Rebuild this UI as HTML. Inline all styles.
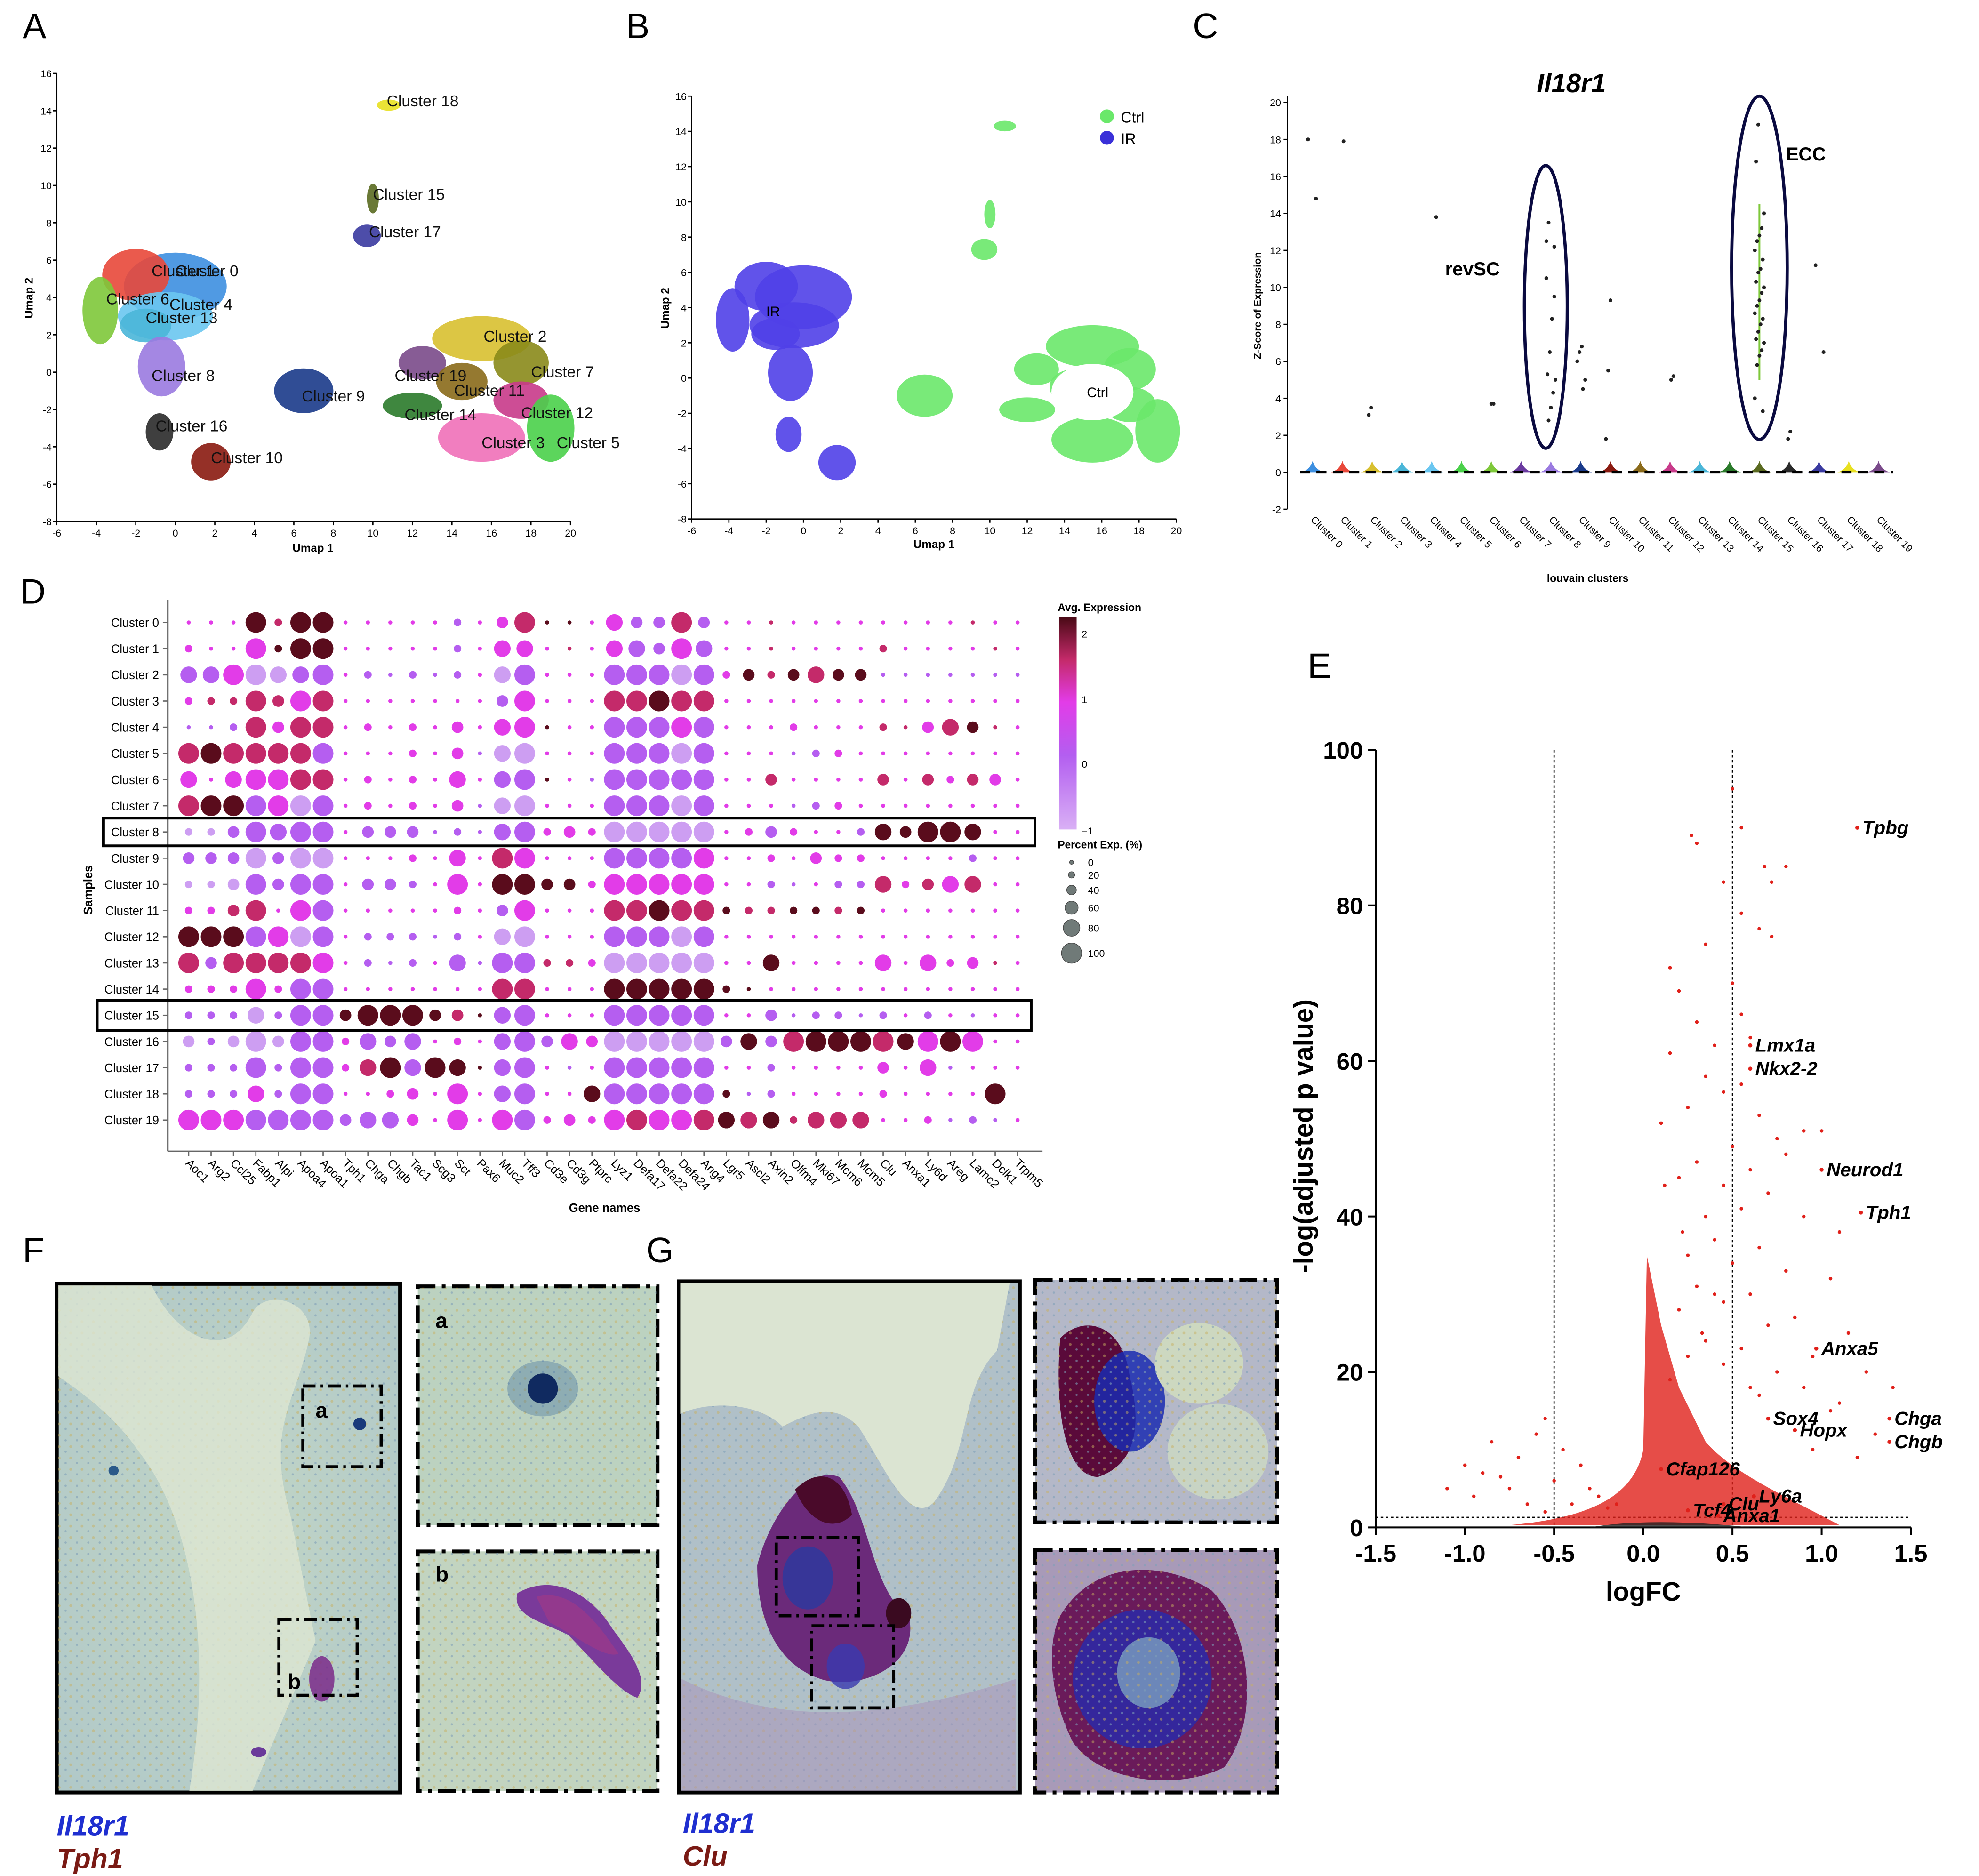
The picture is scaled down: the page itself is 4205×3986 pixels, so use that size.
<!DOCTYPE html>
<html><head><meta charset="utf-8">
<style>
html,body{margin:0;padding:0;background:#fff;}
svg{display:block;font-family:"Liberation Sans",Arial,sans-serif;}
</style></head>
<body>
<svg id="fig" width="4205" height="3986" viewBox="0 0 1568 1486" xmlns="http://www.w3.org/2000/svg">
<defs>
<linearGradient id="cbar" x1="0" y1="1" x2="0" y2="0">
<stop offset="0" stop-color="#d9b0f5"/><stop offset="0.35" stop-color="#b35ef0"/><stop offset="0.6" stop-color="#e23ce8"/><stop offset="0.8" stop-color="#c42a6a"/><stop offset="1" stop-color="#4a0a16"/>
</linearGradient>
<radialGradient id="tissue1" cx="0.5" cy="0.5" r="0.7"><stop offset="0" stop-color="#c2d6c6"/><stop offset="1" stop-color="#b0c8c8"/></radialGradient>
<pattern id="speck" width="9" height="9" patternUnits="userSpaceOnUse"><circle cx="2" cy="3" r="1.1" fill="#c8b060" opacity="0.5"/><circle cx="7" cy="7" r="0.9" fill="#7f9fb8" opacity="0.6"/></pattern>
</defs>

<g font-size="28" fill="#000">
<text x="18" y="30">A</text><text x="496" y="30">B</text><text x="945" y="30">C</text>
<text x="16" y="478">D</text><text x="1036" y="537">E</text><text x="18" y="1000">F</text><text x="512" y="1000">G</text>
</g>

<g id="panelA"></g>
<g id="panelB"></g>
<g id="panelC"></g>
<g id="panelD"></g>
<g id="panelE"></g>

<g>
<rect x="45" y="1017" width="272" height="403" fill="url(#tissue1)" stroke="#000" stroke-width="3"/>
<rect x="46" y="1018" width="270" height="401" fill="url(#speck)"/>
<path d="M120 1018 C140 1060 180 1080 200 1040 C210 1020 250 1030 245 1060 C235 1110 210 1130 230 1200 L250 1300 L200 1419 L150 1419 C170 1300 150 1200 110 1150 C90 1120 60 1100 46 1090 L46 1018Z" fill="#dde6d2" opacity="0.8"/>
<ellipse cx="285" cy="1128" rx="5" ry="5" fill="#1a3a7a"/><ellipse cx="90" cy="1165" rx="4" ry="4" fill="#2b5a8a"/>
<ellipse cx="255" cy="1330" rx="10" ry="18" fill="#7a2a8a" opacity="0.85"/><ellipse cx="205" cy="1388" rx="6" ry="4" fill="#6a3a9a"/>
<rect x="240" y="1098" width="62" height="64" fill="none" stroke="#000" stroke-width="2.5" stroke-dasharray="10 4 2 4"/>
<rect x="221" y="1283" width="62" height="60" fill="none" stroke="#000" stroke-width="2.5" stroke-dasharray="10 4 2 4"/>
<text x="250" y="1123" font-size="17" font-weight="bold">a</text><text x="228" y="1338" font-size="17" font-weight="bold">b</text>
<rect x="331" y="1019" width="190" height="189" fill="#bcd2c0" stroke="#000" stroke-width="3" stroke-dasharray="14 5 3 5"/>
<rect x="332" y="1020" width="188" height="187" fill="url(#speck)"/>
<ellipse cx="430" cy="1100" rx="28" ry="22" fill="#3a6a9a" opacity="0.35"/><ellipse cx="430" cy="1100" rx="12" ry="12" fill="#102a60"/>
<text x="345" y="1052" font-size="17" font-weight="bold">a</text>
<rect x="331" y="1229" width="190" height="190" fill="#c2d4c0" stroke="#000" stroke-width="3" stroke-dasharray="14 5 3 5"/>
<rect x="332" y="1230" width="188" height="188" fill="url(#speck)"/>
<path d="M410 1262 C440 1245 470 1265 485 1290 C500 1310 515 1330 505 1345 C490 1340 470 1315 450 1295 C430 1285 405 1280 410 1262Z" fill="#7a3a9a"/>
<path d="M425 1265 C450 1258 470 1280 490 1310 C480 1315 455 1295 435 1285Z" fill="#9a3a8a" opacity="0.8"/>
<text x="345" y="1253" font-size="17" font-weight="bold">b</text>
<text x="45" y="1454" font-size="22" font-weight="bold" font-style="italic" fill="#1f2fd0">Il18r1</text>
<text x="45" y="1480" font-size="22" font-weight="bold" font-style="italic" fill="#7a1a14">Tph1</text>
</g>

<g>
<rect x="538" y="1015" width="270" height="405" fill="#b0c0c8" stroke="#000" stroke-width="3"/>
<rect x="539" y="1016" width="268" height="403" fill="url(#speck)"/>
<path d="M539 1016 L800 1016 L790 1070 C760 1100 770 1150 740 1190 C720 1210 700 1160 680 1130 C660 1110 640 1120 620 1130 C600 1110 560 1110 539 1120Z" fill="#dbe4d2"/>
<path d="M600 1240 C610 1200 640 1160 665 1170 C690 1200 690 1260 720 1280 C730 1320 680 1340 650 1330 C620 1320 600 1290 600 1240Z" fill="#6b2a7a"/>
<path d="M630 1180 C650 1160 670 1170 675 1200 C660 1215 640 1205 630 1180Z" fill="#4a0a2a"/>
<ellipse cx="640" cy="1250" rx="20" ry="25" fill="#2a3aa0" opacity="0.8"/>
<ellipse cx="670" cy="1320" rx="15" ry="18" fill="#3a3ab0" opacity="0.8"/>
<ellipse cx="712" cy="1278" rx="10" ry="12" fill="#3a0a20"/>
<path d="M540 1330 C600 1360 680 1370 805 1330 L805 1419 L540 1419Z" fill="#a890b8" opacity="0.5"/>
<rect x="615" y="1218" width="65" height="62" fill="none" stroke="#000" stroke-width="2.5" stroke-dasharray="10 4 2 4"/>
<rect x="643" y="1288" width="65" height="65" fill="none" stroke="#000" stroke-width="2.5" stroke-dasharray="10 4 2 4"/>
<rect x="820" y="1014" width="192" height="192" fill="#b4b8c8" stroke="#000" stroke-width="3" stroke-dasharray="14 5 3 5"/>
<path d="M840 1060 C860 1040 890 1050 895 1090 C905 1130 900 1160 870 1170 C845 1170 835 1120 840 1060Z" fill="#5a0a3a"/>
<ellipse cx="895" cy="1110" rx="28" ry="40" fill="#1a2ab0" opacity="0.85"/>
<ellipse cx="950" cy="1080" rx="35" ry="32" fill="#cdd8c0"/><ellipse cx="965" cy="1150" rx="40" ry="38" fill="#c8d4c4"/>
<rect x="821" y="1015" width="190" height="190" fill="url(#speck)"/>
<rect x="820" y="1228" width="192" height="192" fill="#a89ab8" stroke="#000" stroke-width="3" stroke-dasharray="14 5 3 5"/>
<path d="M840 1280 C870 1230 930 1240 960 1260 C990 1290 1000 1360 970 1400 C930 1420 870 1410 850 1380 C830 1340 830 1300 840 1280Z" fill="#6a1a5a"/>
<ellipse cx="905" cy="1330" rx="55" ry="55" fill="#2a2aa8" opacity="0.85"/>
<ellipse cx="910" cy="1325" rx="25" ry="28" fill="#7aa0c0" opacity="0.8"/>
<rect x="821" y="1229" width="190" height="190" fill="url(#speck)"/>
<text x="541" y="1452" font-size="22" font-weight="bold" font-style="italic" fill="#1f2fd0">Il18r1</text>
<text x="541" y="1478" font-size="22" font-weight="bold" font-style="italic" fill="#7a1a14">Clu</text>
</g>

<script>
const NS='http://www.w3.org/2000/svg';
function mk(parent,tag,attrs,txt){const e=document.createElementNS(NS,tag);for(const k in attrs)e.setAttribute(k,attrs[k]);if(txt!==undefined)e.textContent=txt;parent.appendChild(e);return e;}

const umapTicksX=[-6,-4,-2,0,2,4,6,8,10,12,14,16,18,20];
const umapTicksY=[16,14,12,10,8,6,4,2,0,-2,-4,-6,-8];
const clusterBlobs=[
['Cluster 0',0,4.6,2.6,1.8,'#3d8fe0',0,5.4],['Cluster 1',-2,5.2,1.7,1.4,'#e8483a',-1.2,5.4],['Cluster 6',-3.8,3.3,0.9,1.8,'#7ec83a',-3.5,3.9],
['Cluster 4',-0.5,3,2.4,1.3,'#6ac6f0',-0.3,3.6],['Cluster 13',-1.5,2.5,1.3,0.9,'#4ab6d8',-1.5,2.9],['Cluster 8',-0.7,0.3,1.2,1.6,'#9a7ae0',-1.2,-0.2],
['Cluster 16',-0.8,-3.2,0.7,1,'#2a2a2a',-1,-2.9],['Cluster 10',1.8,-4.8,1,1,'#8a1a10',1.8,-4.6],['Cluster 18',10.8,14.3,0.6,0.3,'#e8e020',10.7,14.5],
['Cluster 15',10,9.3,0.3,0.8,'#5a6a20',10,9.5],['Cluster 17',9.7,7.3,0.7,0.6,'#3a3aa0',9.8,7.5],['Cluster 9',6.5,-1,1.5,1.2,'#1a3a8a',6.4,-1.3],
['Cluster 14',12,-1.8,1.5,0.7,'#2a7a2a',11.6,-2.3],['Cluster 19',12.5,0.5,1.2,0.9,'#7a4a8a',11.1,-0.2],['Cluster 2',15.5,1.8,2.5,1.2,'#d8c030',15.6,1.9],
['Cluster 11',14.5,-0.5,1.3,1,'#8a6a1a',14.1,-1],['Cluster 7',17.5,0.5,1.4,1.2,'#8a8a1a',18,0],['Cluster 12',17.5,-1.5,1.4,1,'#c83a8a',17.5,-2.2],
['Cluster 3',15.5,-3.5,2.2,1.3,'#f070b8',15.5,-3.8],['Cluster 5',19,-3,1.2,1.8,'#4ad04a',19.3,-3.8]];

function umapAxes(g,x0,x1,y0,y1,xmin,xmax,ymin,ymax){
  const sx=v=>x0+(v-xmin)/(xmax-xmin)*(x1-x0), sy=v=>y1-(v-ymin)/(ymax-ymin)*(y1-y0);
  mk(g,'line',{x1:x0,y1:y0,x2:x0,y2:y1,stroke:'#000','stroke-width':1});
  mk(g,'line',{x1:x0,y1:y1,x2:x1,y2:y1,stroke:'#000','stroke-width':1});
  umapTicksX.forEach(t=>{mk(g,'line',{x1:sx(t),y1:y1,x2:sx(t),y2:y1+3,stroke:'#000'});mk(g,'text',{x:sx(t),y:y1+12,'font-size':8,'text-anchor':'middle'},t);});
  umapTicksY.forEach(t=>{mk(g,'line',{x1:x0-3,y1:sy(t),x2:x0,y2:sy(t),stroke:'#000'});mk(g,'text',{x:x0-4,y:sy(t)+3,'font-size':8,'text-anchor':'end'},t);});
  return [sx,sy];
}
(function(){
  const g=document.getElementById('panelA');
  const [sx,sy]=umapAxes(g,45,452,58,413,-6,20,-8,16);
  mk(g,'text',{x:248,y:437,'font-size':9,'font-weight':'bold','text-anchor':'middle'},'Umap 1');
  mk(g,'text',{x:26,y:236,'font-size':9,'font-weight':'bold','text-anchor':'middle',transform:'rotate(-90 26 236)'},'Umap 2');
  const kx=(452-45)/26, ky=(413-58)/24;
  clusterBlobs.forEach(b=>{
    const e=mk(g,'ellipse',{cx:sx(b[1]),cy:sy(b[2]),rx:b[3]*kx,ry:b[4]*ky,fill:b[5],opacity:0.9});
    
    
  });
  clusterBlobs.forEach(b=>{mk(g,'text',{x:sx(b[6]),y:sy(b[7])+4,'font-size':12.5,fill:'#111'},b[0]);});
})();
(function(){
  const g=document.getElementById('panelB');
  const [sx,sy]=umapAxes(g,548,932,76,411,-6,20,-8,16);
  mk(g,'text',{x:740,y:434,'font-size':9,'font-weight':'bold','text-anchor':'middle'},'Umap 1');
  mk(g,'text',{x:530,y:244,'font-size':9,'font-weight':'bold','text-anchor':'middle',transform:'rotate(-90 530 244)'},'Umap 2');
  const kx=(932-548)/26, ky=(411-76)/24;
  clusterBlobs.forEach(b=>{
    const left=b[1]<4;
    const e=mk(g,'ellipse',{cx:sx(b[1]),cy:sy(b[2]),rx:b[3]*kx,ry:b[4]*ky,fill:left?'#5040e8':'#6ae86a',opacity:0.9});
    
    
  });
  mk(g,'ellipse',{cx:sx(15.5),cy:sy(-0.8),rx:2.2*kx,ry:1.6*ky,fill:'#fff'});
  mk(g,'text',{x:sx(-2),y:sy(3.5),'font-size':11},'IR');
  mk(g,'text',{x:sx(15.2),y:sy(-0.8)+4,'font-size':11},'Ctrl');
  mk(g,'circle',{cx:877,cy:92,r:5.5,fill:'#6ae86a'});mk(g,'text',{x:888,y:97,'font-size':12},'Ctrl');
  mk(g,'circle',{cx:877,cy:109,r:5.5,fill:'#3a30d8'});mk(g,'text',{x:888,y:114,'font-size':12},'IR');
})();

const vCats=['Cluster 0','Cluster 1','Cluster 2','Cluster 3','Cluster 4','Cluster 5','Cluster 6','Cluster 7','Cluster 8','Cluster 9','Cluster 10','Cluster 11','Cluster 12','Cluster 13','Cluster 14','Cluster 15','Cluster 16','Cluster 17','Cluster 18','Cluster 19'];
const vColors=['#3d8fe0','#e8483a','#d8c030','#4ab6d8','#6ac6f0','#4ad04a','#7ec83a','#6a3aa0','#9a7ae0','#1a3a8a','#8a1a10','#8a6a1a','#c83a8a','#4ab6d8','#2a7a2a','#5a6a20','#2a2a2a','#3a3aa0','#e8e020','#7a4a8a'];
const vPtCluster=[0,0,1,2,2,4,6,6,8,8,8,8,8,8,8,8,8,8,8,8,9,9,9,9,9,10,10,10,12,12,15,15,15,15,15,15,15,15,15,15,15,15,15,15,15,15,15,15,15,15,15,15,15,15,15,15,16,16,17,17];
const vPtValue=[18,14.8,17.9,3.5,3.1,13.8,3.7,3.7,13.5,12.5,12.2,8.3,6.5,5.3,5,4.3,3.5,2.8,10.5,9.5,6.8,6.5,6,5,4.5,9.3,5.5,1.8,5.2,5,18.8,16.8,14,13.2,12.8,12.5,12,11.5,11,10.8,10.3,10,9.7,9.3,9,8.6,8.3,8,7.6,7.2,7,6.6,6.3,5.8,4,3.3,2.2,1.8,11.2,6.5];
const vTicks=[20,18,16,14,12,10,8,6,4,2,0,-2];
(function(){
  const g=document.getElementById('panelC');
  const X0=1020,Y0=81,Y1=403;
  const sy=v=>374-(v)*(374-81)/20;
  const sx=i=>1040+i*23.6;
  mk(g,'line',{x1:X0,y1:Y0-5,x2:X0,y2:Y1,stroke:'#000'});
  vTicks.forEach(t=>{mk(g,'line',{x1:X0-3,y1:sy(t),x2:X0,y2:sy(t),stroke:'#000'});mk(g,'text',{x:X0-5,y:sy(t)+3,'font-size':8,'text-anchor':'end'},t);});
  mk(g,'text',{x:999,y:242,'font-size':8,'font-weight':'bold','text-anchor':'middle',transform:'rotate(-90 999 242)'},'Z-Score of Expression');
  mk(g,'text',{x:1245,y:73,'font-size':21,'font-weight':'bold','font-style':'italic','text-anchor':'middle'},'Il18r1');
  vCats.forEach((c,i)=>{
    const x=sx(i);
    const p=mk(g,'path',{d:`M${x-9} ${sy(0)} Q${x-2} ${sy(0)-2} ${x} ${sy(0)-9} Q${x+2} ${sy(0)-2} ${x+9} ${sy(0)}Z`,fill:vColors[i]});
    
    
    mk(g,'text',{x:x-2,y:412,'font-size':8,transform:`rotate(45 ${x-2} 412)`},c);
  });
  mk(g,'line',{x1:1030,y1:sy(0),x2:1500,y2:sy(0),stroke:'#000','stroke-width':2,'stroke-dasharray':'8 5'});
  mk(g,'line',{x1:sx(15),y1:sy(14.5),x2:sx(15),y2:sy(5),stroke:'#7ec83a','stroke-width':1.5});
  vPtCluster.forEach((c,k)=>{
    const d=mk(g,'circle',{cx:sx(c)+((k*7)%9-4)*0.9,cy:sy(vPtValue[k]),r:1.5,fill:'#222'});
    
    
  });
  mk(g,'ellipse',{cx:sx(8)-4,cy:243,rx:17,ry:112,fill:'none',stroke:'#0a0a40','stroke-width':2.5,});
  mk(g,'ellipse',{cx:sx(15),cy:212,rx:22,ry:136,fill:'none',stroke:'#0a0a40','stroke-width':2.5,});
  mk(g,'text',{x:1145,y:218,'font-size':15,'font-weight':'bold'},'revSC');
  mk(g,'text',{x:1415,y:127,'font-size':15,'font-weight':'bold'},'ECC');
  mk(g,'text',{x:1258,y:461,'font-size':8.5,'font-weight':'bold','text-anchor':'middle'},'louvain clusters');
})();

const dRows=['Cluster 0','Cluster 1','Cluster 2','Cluster 3','Cluster 4','Cluster 5','Cluster 6','Cluster 7','Cluster 8','Cluster 9','Cluster 10','Cluster 11','Cluster 12','Cluster 13','Cluster 14','Cluster 15','Cluster 16','Cluster 17','Cluster 18','Cluster 19'];
const dGenes=['Aoc1','Arg2','Ccl25','Fabp1','Alpi','Apoa4','Apoa1','Tph1','Chga','Chgb','Tac1','Scg3','Sct','Pax6','Muc2','Tff3','Cd3e','Cd3g','Ptprc','Lyz1','Defa17','Defa22','Defa24','Ang4','Lgr5','Ascl2','Axin2','Olfm4','Mki67','Mcm6','Mcm5','Clu','Anxa1','Ly6d','Areg','Lamc2','Dclk1','Trpm5'];
const dSize=[
"0004144 0000010 24 000 32242 0000000 0000000",
"1004144 0000010 33 000 33243 0000000 1000000",
"3344334 0101010 34 000 44444 1212322 0000000",
"1114244 0000000 24 000 44444 0000000 0000000",
"0014244 0101020 34 000 44444 0001000 1023200",
"4444444 0001020 34 000 44444 0000110 0000000",
"3034444 0101030 34 000 44444 0020000 2021220",
"4444444 0101020 34 000 44444 0000110 0000000",
"1124344 0222010 34 121 44444 0121001 3244300",
"2224244 0001030 44 000 44444 0010211 0000100",
"1124244 0221040 44 221 44444 0010011 3123300",
"1124044 0000010 24 000 44444 1111111 0000000",
"4444444 0111010 34 000 44444 0000000 0000000",
"4244444 0101030 44 111 44444 0030000 3031200",
"1114144 0000000 44 000 44444 1000000 0000000",
"1113144 2444220 34 000 44444 0020110 1010000",
"2124244 1323010 34 232 44444 2324444 4344400",
"1114144 1343430 34 000 44444 0010000 2030000",
"1113144 0012040 34 003 44444 1010000 1000045",
"4444444 2332040 44 121 44444 3331333 0010100"];
const dColor=[
"cccedee cccccbc cd eec cbbdb ccdcccc ccccdcc",
"cccceee cccccbc cc cdc cbbcb ccdcccc dccccdc",
"bbcaabb cbbbbbc ab ccc bbbab cededee bbbbbbb",
"cddddcd ccccccc bc ccc ddedd ccccccc ccccccc",
"bbbdcdd ccccccc cc ecc bbbcb ccccccc ddcdedc",
"deddddb ccccccb aa ccc bbbab cccbbcc ccccccc",
"cccccdd ccccccc bb ecb bbbbb ccdcccc dcdcdcc",
"deebcab ccccccb aa ccc bbbab cccbbcc ccccccc",
"aabbbbb cbbbbbb bb ccc aaaaa ccbcccb eeeeecc",
"bbbabaa ccccccc dc ccc bbbbc ccccccc ccccbcc",
"aaabbbb cbbbccc ee eec ccccc ccbbcbb dcdcdcc",
"ccddccb ccccccc bc ccc ddedd eddeede ccccccc",
"eeebcab cbbbbbc aa ccc bbbab ccccccc ccccccc",
"dbddddc cbbbcbb bb ddc aaaaa ccecccc cccccdc",
"cccccbb ccccccc dd ccc eeeee eeccccc ccccccc",
"bbbabbb eeeeede bb ccc bbbbb ccbbbbb bcbcbcc",
"abaaabb cbbbccc bb bcc aaaaa bebdeee dececcc",
"bbbbbbb cdebeee bb cbc bbbbb ccbcccc cccbccc",
"bbbcbbb ccccccc bb cce bbbbb ebbcccc cccccee",
"cccbbbb bbbcccc cb ccc cdccd ededddd cccbbbc"];
const dPalette={a:'#cd9ef2',b:'#b55ef0',c:'#e23ce8',d:'#c42a6a',e:'#5a0c1c'};
const dRadius=[1.6,3,4.6,6.6,8.2];
const pctLabels=['0','20','40','60','80','100'];
const cbarLabels=['2','1','0','\u22121'];
(function(){
  const g=document.getElementById('panelD');
  const sx=j=>149.5+j*17.75, sy=i=>493+i*20.75;
  mk(g,'line',{x1:133,y1:475,x2:133,y2:912,stroke:'#666','stroke-width':1.2});
  mk(g,'line',{x1:133,y1:912,x2:826,y2:912,stroke:'#666','stroke-width':1.2});
  dRows.forEach((r,i)=>{mk(g,'text',{x:126,y:sy(i)+3.5,'font-size':9.5,'text-anchor':'end'},r);mk(g,'line',{x1:129,y1:sy(i),x2:133,y2:sy(i),stroke:'#666'});});
  dGenes.forEach((n,j)=>{mk(g,'line',{x1:sx(j),y1:912,x2:sx(j),y2:916,stroke:'#666'});mk(g,'text',{x:sx(j)-3,y:922,'font-size':9.5,transform:`rotate(45 ${sx(j)-3} 922)`},n);});
  mk(g,'text',{x:479,y:960,'font-size':9.5,'font-weight':'bold','text-anchor':'middle'},'Gene names');
  mk(g,'text',{x:73,y:705,'font-size':9.5,'font-weight':'bold','text-anchor':'middle',transform:'rotate(-90 73 705)'},'Samples');
  dRows.forEach((r,i)=>{
    const s=dSize[i].replace(/ /g,''), c=dColor[i].replace(/ /g,'');
    dGenes.forEach((n,j)=>{
      const d=mk(g,'circle',{cx:sx(j),cy:sy(i),r:dRadius[+(s[j]||0)],fill:dPalette[c[j]||'c']});
      
      
    });
  });
  mk(g,'rect',{x:82,y:sy(8)-11,width:738,height:22,fill:'none',stroke:'#000','stroke-width':2.2,});
  mk(g,'rect',{x:77,y:sy(15)-12,width:740,height:24,fill:'none',stroke:'#000','stroke-width':2.2,});
  mk(g,'text',{x:838,y:484,'font-size':8.5,'font-weight':'bold'},'Avg. Expression');
  mk(g,'rect',{x:839,y:489,width:14,height:168,fill:'url(#cbar)',});
  [514,566,617,670].forEach((y,k)=>mk(g,'text',{x:857,y:y-9,'font-size':8},cbarLabels[k]));
  mk(g,'text',{x:838,y:672,'font-size':8.5,'font-weight':'bold'},'Percent Exp. (%)');
  const ly=[683,693,705,719,735,755], lr=[1.6,2.5,3.8,5.2,6.6,8];
  pctLabels.forEach((p,k)=>{mk(g,'circle',{cx:849,cy:ly[k],r:lr[k],fill:'#707a78',stroke:'#444','stroke-width':0.5});mk(g,'text',{x:862,y:ly[k]+3,'font-size':8},p);});
})();

const vxTicks=[-1.5,-1.0,-0.5,0.0,0.5,1.0,1.5];
const vyTicks=[0,20,40,60,80,100];
const geneNames=['Tpbg','Lmx1a','Nkx2-2','Neurod1','Tph1','Anxa5','Sox4','Hopx','Chga','Chgb','Cfap126','Clu','Ly6a','Tcf4','Anxa1'];
const geneFC=[1.2,0.6,0.6,1.0,1.22,0.97,0.7,0.85,1.38,1.38,0.1,0.45,0.62,0.25,0.42];
const geneP=[90,62,59,46,40.5,23,14,12.5,14,11,7.5,3,4,2.2,1.5];
const bgFC=[0.5,0.55,0.27,0.3,0.68,0.8,0.72,0.45,0.55,0.65,0.72,0.35,0.15,0.5,0.2,0.55,0.3,0.6,0.4,0.15,0.35,0.55,0.45,0.25,0.65,0.9,1.0,0.75,0.5,0.8,0.3,0.6,0.2,0.45,0.7,0.55,0.35,0.9,1.1,0.4,0.65,0.25,0.5,0.8,1.05,0.3,0.6,0.45,0.2,0.85,1.15,0.7,0.35,0.55,0.95,0.25,0.45,1.25,0.75,0.15,0.6,1.4,-0.55,-0.85,-1.0,-0.9,-0.7,-0.6,-0.45,-0.35,-0.75,-0.5,-0.3,-0.65,-1.1,-0.4,-0.2,-0.95,-0.25,-0.15,-0.55,-0.8,1.05,1.3,0.9,1.2,0.95,1.1,0.65,0.4,0.1,0.22,0.33,0.12];
const bgP=[95,90,89,88,85,85,83,83,79,77,76,75,72,70,69,66,65,63,62,61,58,57,56,54,53,51,51,50,49,48,47,46,45,44,43,41,40,40,38,37,36,35,34,33,32,31,30,29,28,27,25,26,24,23,22,22,21,20,20,19,18,18,14,11,8,7,9,12,10,8,5,6,5,3,5,3,2.5,4,4,3,2,6.5,15,12,18,9,10,16,17,30,52,38,25,44];
(function(){
  const g=document.getElementById('panelE');
  const sx=v=>1302+v*141.3, sy=v=>1210-v*6.16;
  mk(g,'line',{x1:1090,y1:594,x2:1090,y2:1210,stroke:'#000','stroke-width':1.5});
  mk(g,'line',{x1:1090,y1:1210,x2:1514,y2:1210,stroke:'#000','stroke-width':1.5});
  vyTicks.forEach(t=>{mk(g,'line',{x1:1084,y1:sy(t),x2:1090,y2:sy(t),stroke:'#000','stroke-width':1.5});mk(g,'text',{x:1080,y:sy(t)+7,'font-size':19,'font-weight':'bold','text-anchor':'end'},t);});
  vxTicks.forEach(t=>{mk(g,'line',{x1:sx(t),y1:1210,x2:sx(t),y2:1216,stroke:'#000','stroke-width':1.5});mk(g,'text',{x:sx(t),y:1237,'font-size':19,'font-weight':'bold','text-anchor':'middle'},t.toFixed(1));});
  mk(g,'text',{x:1302,y:1268,'font-size':21,'font-weight':'bold','text-anchor':'middle'},'logFC');
  mk(g,'text',{x:1040,y:900,'font-size':21,'font-weight':'bold','text-anchor':'middle',transform:'rotate(-90 1040 900)'},'-log(adjusted p value)');
  const t=mk(g,'text',{x:1302,y:586,'font-size':21,'font-weight':'bold','text-anchor':'middle'});
  t.innerHTML='<tspan font-style="italic">IL18r1</tspan><tspan dy="-8" font-size="13">-</tspan><tspan dy="8"> vs </tspan><tspan font-style="italic">IL18r1</tspan><tspan dy="-8" font-size="13">+</tspan><tspan dy="8"> Cells</tspan>';
  mk(g,'line',{x1:sx(-0.5),y1:594,x2:sx(-0.5),y2:1210,stroke:'#000','stroke-dasharray':'2 2'});
  mk(g,'line',{x1:sx(0.5),y1:594,x2:sx(0.5),y2:1210,stroke:'#000','stroke-dasharray':'2 2'});
  mk(g,'line',{x1:1090,y1:sy(1.3),x2:1514,y2:sy(1.3),stroke:'#000','stroke-dasharray':'2 2'});
  mk(g,'path',{d:`M${sx(-0.75)} ${sy(0.3)} C${sx(-0.3)} ${sy(1.2)} ${sx(-0.05)} ${sy(4)} ${sx(0)} ${sy(10)} L${sx(0.02)} ${sy(35)} L${sx(0.1)} ${sy(26)} L${sx(0.2)} ${sy(18)} L${sx(0.35)} ${sy(11)} C${sx(0.5)} ${sy(7)} ${sx(0.8)} ${sy(4)} ${sx(1.1)} ${sy(0.3)}Z`,fill:'#e0201a',opacity:0.8,});
  mk(g,'path',{d:`M${sx(-0.3)} ${sy(0)} C${sx(-0.1)} ${sy(0.8)} ${sx(0.2)} ${sy(1)} ${sx(0.6)} ${sy(0)}Z`,fill:'#222',opacity:0.8});
  bgFC.forEach((x,k)=>{
    const d=mk(g,'circle',{cx:sx(x),cy:sy(bgP[k]),r:1.4,fill:'#e0201a'});
    
    
  });
  geneNames.forEach((n,k)=>{
    const d=mk(g,'circle',{cx:sx(geneFC[k]),cy:sy(geneP[k]),r:1.6,fill:'#e0201a'});
    
    
    mk(g,'text',{x:sx(geneFC[k])+4,y:sy(geneP[k])+5,'font-size':15,'font-weight':'bold','font-style':'italic'},n);
  });
})();
</script>
</svg>
</body></html>
